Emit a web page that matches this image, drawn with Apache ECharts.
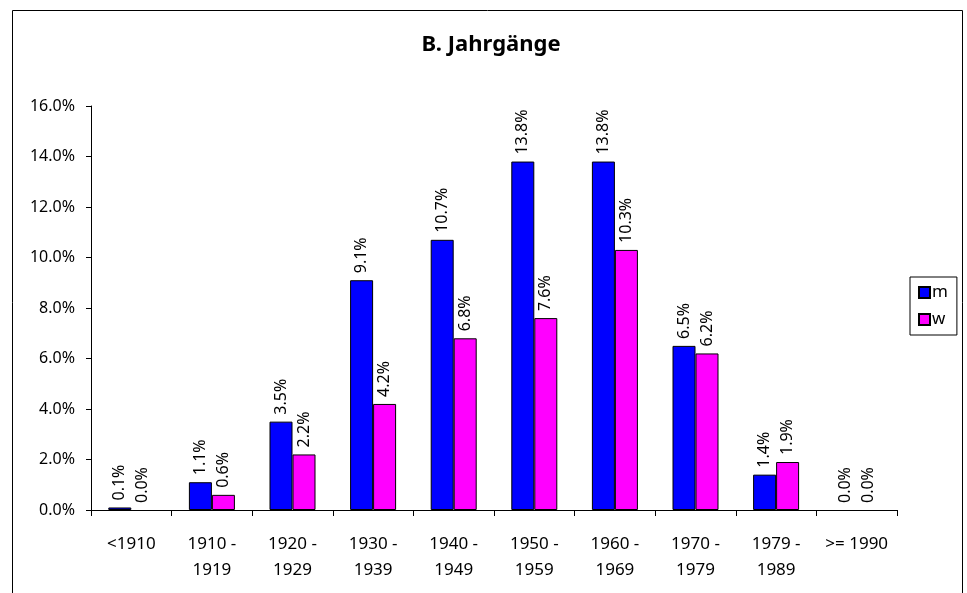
<!DOCTYPE html>
<html>
<head>
<meta charset="utf-8">
<script src="https://cdn.jsdelivr.net/npm/echarts@6/dist/echarts.min.js"></script>
<style>
  html, body { margin: 0; padding: 0; background: #fff; }
  #chart { width: 967px; height: 593px; }
</style>
</head>
<body>
<div id="chart"></div>
<script>
var categories = ['<1910', '1910 -\n1919', '1920 -\n1929', '1930 -\n1939', '1940 -\n1949',
    '1950 -\n1959', '1960 -\n1969', '1970 -\n1979', '1979 -\n1989', '>= 1990'];
var valuesM = [0.1, 1.1, 3.5, 9.1, 10.7, 13.8, 13.8, 6.5, 1.4, 0.0];
var valuesW = [0.0, 0.6, 2.2, 4.2, 6.8, 7.6, 10.3, 6.2, 1.9, 0.0];

var fontName = '"Noto Sans", "DejaVu Sans", sans-serif';
var dom = document.getElementById('chart');
var chart = echarts.init(dom);

function barLabel() {
    return {
        show: true,
        position: 'top',
        rotate: 90,
        align: 'left',
        verticalAlign: 'middle',
        distance: 7,
        color: '#000',
        fontFamily: fontName,
        fontSize: 16,
        formatter: function (p) { return p.value.toFixed(1) + '%'; }
    };
}

// zero bars are not drawn in the original, only their label
function barData(values) {
    return values.map(function (v) {
        if (v === 0) {
            return { value: v, itemStyle: { color: 'rgba(0,0,0,0)', borderWidth: 0 } };
        }
        return v;
    });
}

var option = {
    animation: false,
    title: {
        text: 'B. Jahrgänge',
        left: 486,
        textAlign: 'center',
        top: 29,
        textStyle: { fontFamily: fontName, fontWeight: 'bold', fontSize: 22, color: '#000' }
    },
    graphic: [{
        type: 'rect',
        shape: { x: 12.5, y: 10.5, width: 950, height: 600 },
        style: { fill: 'none', stroke: '#000', lineWidth: 1 }
    }],
    legend: {
        orient: 'vertical',
        left: 910,
        top: 277,
        padding: [7, 9, 7, 8],
        itemGap: 10,
        itemWidth: 11,
        itemHeight: 11,
        icon: 'rect',
        borderColor: '#000',
        borderWidth: 1,
        textStyle: { fontFamily: fontName, fontSize: 17, color: '#000', padding: [0, 0, 0, -3] },
        data: ['m', 'w']
    },
    grid: { left: 91, right: 70, top: 106, bottom: 83 },
    xAxis: {
        type: 'category',
        data: categories,
        axisLine: { lineStyle: { color: '#000' } },
        axisTick: { show: true, length: 6, lineStyle: { color: '#000' } },
        axisLabel: {
            interval: 0,
            margin: 21,
            lineHeight: 26,
            color: '#000',
            fontFamily: fontName,
            fontSize: 17
        }
    },
    yAxis: {
        type: 'value',
        min: 0,
        max: 16,
        interval: 2,
        axisLine: { show: true, lineStyle: { color: '#000' } },
        axisTick: { show: true, length: 5, lineStyle: { color: '#000' } },
        splitLine: { show: false },
        axisLabel: {
            margin: 16,
            color: '#000',
            fontFamily: fontName,
            fontSize: 16,
            formatter: function (v) { return v.toFixed(1) + '%'; }
        }
    },
    series: [
        {
            name: 'm',
            type: 'bar',
            data: barData(valuesM),
            barWidth: 23,
            barGap: '0%',
            itemStyle: { color: '#0000ff', borderColor: '#000', borderWidth: 1 },
            label: barLabel()
        },
        {
            name: 'w',
            type: 'bar',
            data: barData(valuesW),
            barWidth: 23,
            itemStyle: { color: '#ff00ff', borderColor: '#000', borderWidth: 1 },
            label: barLabel()
        }
    ]
};

if (option && typeof option === 'object') {
    chart.setOption(option, true);
}
</script>
</body>
</html>
